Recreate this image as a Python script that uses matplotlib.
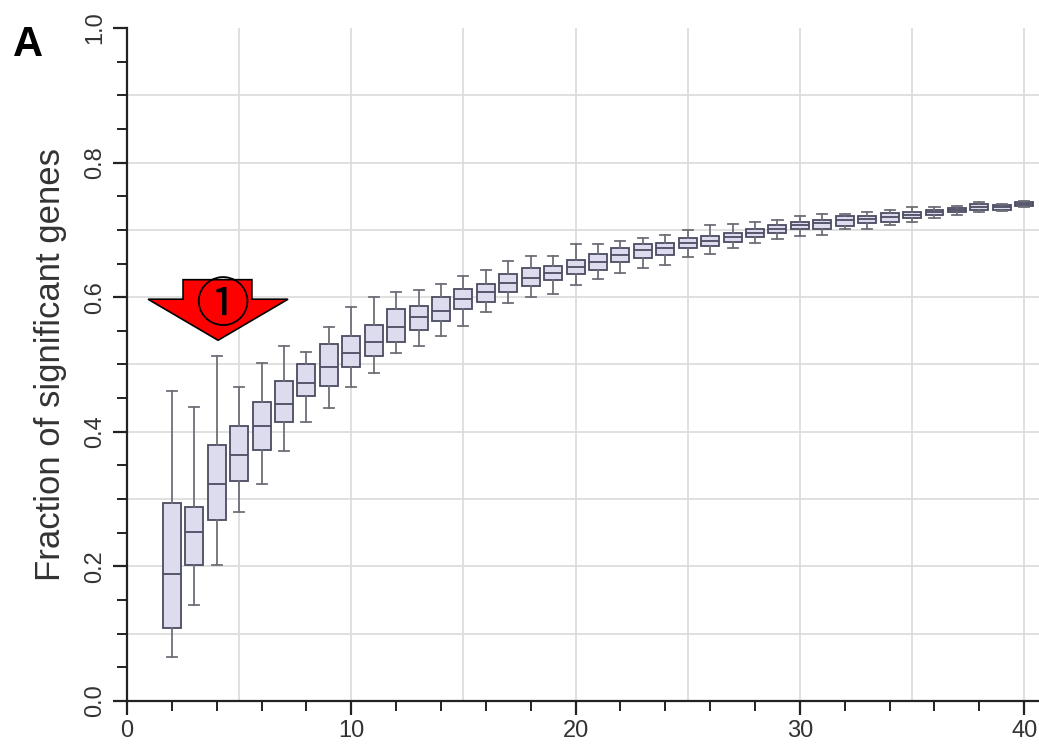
import matplotlib
matplotlib.use('Agg')
import matplotlib.pyplot as plt
from matplotlib.patches import Polygon

# number of samples per group
positions = list(range(2, 41))
whislo = [0.066, 0.142, 0.202, 0.281, 0.322, 0.372, 0.415, 0.436, 0.467, 0.488,
          0.517, 0.528, 0.542, 0.557, 0.578, 0.591, 0.601, 0.605, 0.618, 0.627,
          0.636, 0.643, 0.648, 0.660, 0.664, 0.673, 0.681, 0.686, 0.691, 0.693,
          0.702, 0.702, 0.707, 0.712, 0.717, 0.722, 0.726, 0.728, 0.734]
q1 = [0.108, 0.202, 0.269, 0.327, 0.373, 0.415, 0.453, 0.468, 0.497, 0.513,
      0.534, 0.551, 0.564, 0.582, 0.593, 0.607, 0.617, 0.625, 0.635, 0.641,
      0.653, 0.658, 0.663, 0.673, 0.676, 0.682, 0.690, 0.695, 0.701, 0.702,
      0.706, 0.710, 0.712, 0.717, 0.722, 0.726, 0.730, 0.730, 0.736]
med = [0.188, 0.251, 0.322, 0.366, 0.408, 0.442, 0.473, 0.497, 0.517, 0.534,
       0.556, 0.570, 0.580, 0.597, 0.607, 0.621, 0.629, 0.636, 0.645, 0.653,
       0.663, 0.670, 0.673, 0.680, 0.684, 0.690, 0.696, 0.701, 0.707, 0.710,
       0.715, 0.716, 0.719, 0.722, 0.727, 0.730, 0.734, 0.734, 0.739]
q3 = [0.294, 0.289, 0.381, 0.408, 0.445, 0.476, 0.500, 0.530, 0.542, 0.559,
      0.583, 0.587, 0.601, 0.612, 0.619, 0.635, 0.643, 0.646, 0.656, 0.664,
      0.673, 0.679, 0.681, 0.688, 0.691, 0.696, 0.701, 0.707, 0.712, 0.715,
      0.720, 0.721, 0.725, 0.727, 0.730, 0.733, 0.738, 0.737, 0.742]
whishi = [0.460, 0.437, 0.512, 0.467, 0.502, 0.527, 0.518, 0.556, 0.586, 0.601,
          0.608, 0.611, 0.620, 0.632, 0.641, 0.654, 0.661, 0.661, 0.679, 0.679,
          0.684, 0.688, 0.693, 0.700, 0.707, 0.709, 0.711, 0.715, 0.720, 0.723,
          0.723, 0.726, 0.730, 0.734, 0.734, 0.735, 0.742, 0.738, 0.743]

plt.rcParams['font.family'] = ['Liberation Sans', 'DejaVu Sans']

fig = plt.figure(figsize=(10.39, 7.46), dpi=100)
ax = fig.add_axes([0.1222, 0.0603, 0.8778, 0.9022])

stats = []
for lo, a, m, b, hi in zip(whislo, q1, med, q3, whishi):
    stats.append({'whislo': lo, 'q1': a, 'med': m, 'q3': b, 'whishi': hi, 'fliers': []})

edge = '#4b4b62'
ax.bxp(stats, positions=positions, widths=0.8, patch_artist=True, manage_ticks=False,
       boxprops=dict(facecolor='#dcdcee', edgecolor=edge, linewidth=1.3),
       medianprops=dict(color=edge, linewidth=1.3),
       whiskerprops=dict(color='#6e6e78', linewidth=1.3),
       capprops=dict(color='#6e6e78', linewidth=1.3),
       capwidths=0.45, zorder=3)

ax.set_xlim(0, 40.66)
ax.set_ylim(0, 1.0)
ax.set_xticks([0, 10, 20, 30, 40])
ax.set_xticks(range(0, 41, 2), minor=True)
ax.set_yticks([0.0, 0.2, 0.4, 0.6, 0.8, 1.0])
ax.set_yticks([i * 0.05 for i in range(21)], minor=True)
ax.set_yticklabels(['0.0', '0.2', '0.4', '0.6', '0.8', '1.0'], rotation=90, va='center')

# grid every 5 on x and every 0.1 on y
for gx in range(5, 41, 5):
    ax.axvline(gx, color='#dadada', linewidth=1.2, zorder=0)
for gy in range(1, 10):
    ax.axhline(gy / 10, color='#dadada', linewidth=1.2, zorder=0)

for s in ['top', 'right']:
    ax.spines[s].set_visible(False)
for s in ['left', 'bottom']:
    ax.spines[s].set_linewidth(1.6)
    ax.spines[s].set_color('#222222')
ax.tick_params(which='major', direction='out', length=10, width=1.6, color='#222222',
               labelsize=17, labelcolor='#333333')
ax.tick_params(which='minor', direction='out', length=7, width=1.4, color='#222222')
ax.tick_params(axis='y', pad=5)

ax.set_ylabel('Fraction of significant genes', fontsize=25, color='#333333', labelpad=12)
fig.text(0.027, 0.94, 'A', fontsize=30, fontweight='bold', ha='center', va='center')

# red marker arrow pointing down at the small-sample boxes
arrow = Polygon([(2.5, 0.626), (5.57, 0.626), (5.57, 0.597), (7.18, 0.597),
                 (4.06, 0.536), (0.94, 0.597), (2.5, 0.597)],
                closed=True, facecolor='#ff0000', edgecolor='black', linewidth=1.2,
                zorder=5, clip_on=False)
ax.add_patch(arrow)
ax.text(4.25, 0.586, '①', fontsize=39, ha='center', va='center', zorder=6,
        family=['Noto Sans CJK JP', 'DejaVu Sans'])

fig.savefig('out.png', dpi=100)
